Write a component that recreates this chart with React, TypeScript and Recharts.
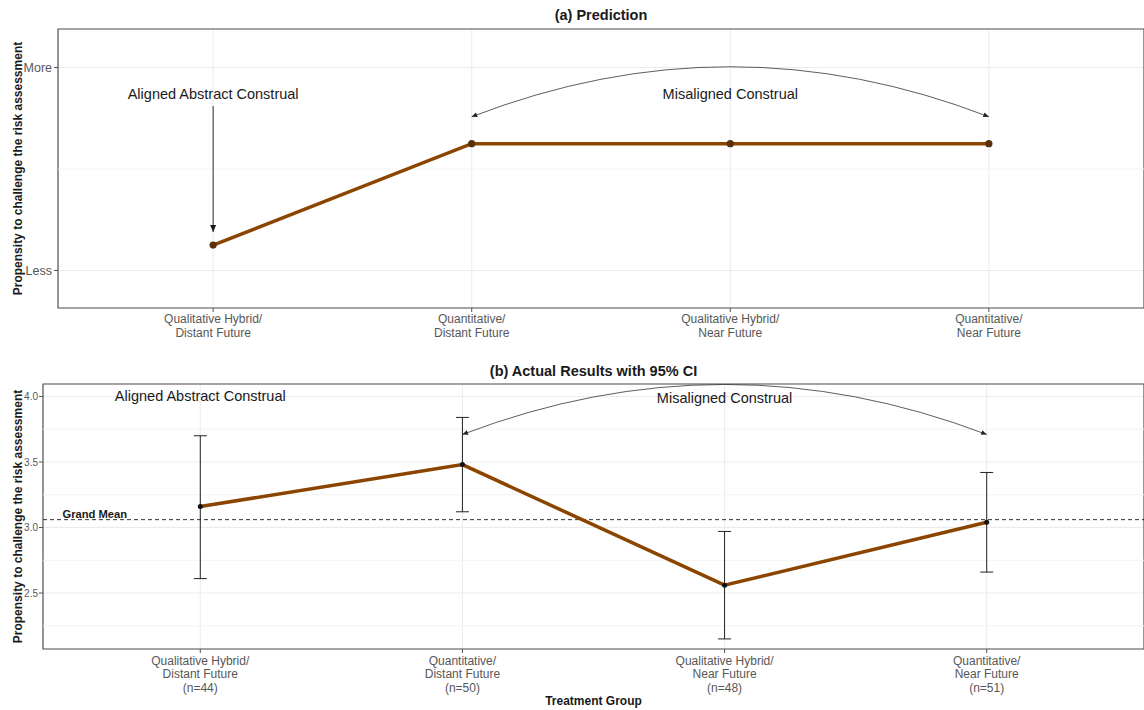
import React from 'react';
import {
  LineChart,
  Line,
  XAxis,
  YAxis,
  CartesianGrid,
  ReferenceLine,
  ReferenceArea,
  ReferenceDot,
  ErrorBar,
} from 'recharts';

// treatment groups, in plotting order
const groupPos = [1, 2, 3, 4];
const groupLines = [
  ['Qualitative Hybrid/', 'Distant Future'],
  ['Quantitative/', 'Distant Future'],
  ['Qualitative Hybrid/', 'Near Future'],
  ['Quantitative/', 'Near Future'],
];
const groupN = [44, 50, 48, 51];

// (a) predicted propensity, on a 0 (less) .. 4 (more) scale
const predicted = [0.5, 2.5, 2.5, 2.5];
const predTicks = [0, 4];
const predTickLabels = ['Less', 'More'];
const predMinor = [2];

// (b) observed means with 95% CI
const actualMean = [3.16, 3.48, 2.56, 3.04];
const ciLower = [2.61, 3.12, 2.15, 2.66];
const ciUpper = [3.7, 3.84, 2.97, 3.42];
const grandMean = 3.06;
const actualTicks = [2.5, 3.0, 3.5, 4.0];
const actualMinor = [2.25, 2.75, 3.25, 3.75];

const FONT = '"Liberation Sans", Arial, Helvetica, sans-serif';
const LINE_COLOR = '#8B4500';
const INK = '#1a1a1a';
const TICK_COLOR = '#575757';
const AXIS_COLOR = '#555';
const GRID = '#EBEBEB';
const GRID_MINOR = '#F4F4F4';
const W = 1144;

const X_DOMAIN: [number, number] = [0.4, 4.6];
const PRED_DOMAIN: [number, number] = [-0.74, 4.76];
const ACTUAL_DOMAIN: [number, number] = [2.073, 4.095];

const predData = groupPos.map((x, i) => ({ x, y: predicted[i] }));
const actualData = groupPos.map((x, i) => ({
  x,
  y: actualMean[i],
  ci: [actualMean[i] - ciLower[i], ciUpper[i] - actualMean[i]],
}));

// triangle with its tip at (tx, ty), pointing along (dx, dy)
const headPoints = (tx: number, ty: number, dx: number, dy: number, len: number, half: number) => {
  const l = Math.hypot(dx, dy) || 1;
  const ux = dx / l;
  const uy = dy / l;
  const bx = tx - ux * len;
  const by = ty - uy * len;
  return `${tx},${ty} ${bx - uy * half},${by + ux * half} ${bx + uy * half},${by - ux * half}`;
};

const StraightArrow = (p: any) => {
  const { x1, y1, x2, y2 } = p;
  return (
    <g>
      <line x1={x1} y1={y1} x2={x2} y2={y2} stroke={INK} strokeWidth={0.9} />
      <polygon points={headPoints(x2, y2, x2 - x1, y2 - y1, 7, 3)} fill={INK} />
    </g>
  );
};

// quadratic arc between the segment ends, bowed upwards, heads at both ends
const curvedArrow = (bulge: number) => (p: any) => {
  const { x1, y1, x2, y2 } = p;
  const cx = (x1 + x2) / 2;
  const cy = (y1 + y2) / 2 - 2 * bulge;
  return (
    <g>
      <path
        d={`M${x1},${y1} Q${cx},${cy} ${x2},${y2}`}
        fill="none"
        stroke="#333"
        strokeWidth={0.8}
      />
      <polygon points={headPoints(x1, y1, x1 - cx, y1 - cy, 5.5, 2.5)} fill="#222" />
      <polygon points={headPoints(x2, y2, x2 - cx, y2 - cy, 5.5, 2.5)} fill="#222" />
    </g>
  );
};

const note = (text: string) => (p: any) => (
  <text
    x={p.cx}
    y={p.cy}
    textAnchor="middle"
    dominantBaseline="central"
    fontSize={14.5}
    fill={INK}
    fontFamily={FONT}
  >
    {text}
  </text>
);

const GroupTick = (props: any) => {
  const { x, y, payload, first, step, showN } = props;
  const i = groupPos.indexOf(payload.value);
  if (i < 0) return null;
  const lines = showN ? [...groupLines[i], `(n=${groupN[i]})`] : groupLines[i];
  return (
    <text x={x} y={y} textAnchor="middle" fill={TICK_COLOR} fontSize={12} fontFamily={FONT}>
      {lines.map((l, k) => (
        <tspan key={k} x={x} dy={k === 0 ? first : step}>
          {l}
        </tspan>
      ))}
    </text>
  );
};

const yTitle = (props: any) => {
  const { viewBox } = props;
  const x = viewBox.x + 17.5;
  const y = viewBox.y + viewBox.height / 2;
  return (
    <text
      x={x}
      y={y}
      transform={`rotate(-90, ${x}, ${y})`}
      textAnchor="middle"
      dominantBaseline="central"
      fontWeight="bold"
      fontSize={12}
      fill={INK}
      fontFamily={FONT}
    >
      Propensity to challenge the risk assessment
    </text>
  );
};

const xTitle = (props: any) => {
  const { viewBox } = props;
  return (
    <text
      x={viewBox.x + viewBox.width / 2}
      y={viewBox.y + 56}
      textAnchor="middle"
      fontWeight="bold"
      fontSize={12}
      fill={INK}
      fontFamily={FONT}
    >
      Treatment Group
    </text>
  );
};

const grandMeanLabel = (props: any) => {
  const { viewBox } = props;
  return (
    <text
      x={viewBox.x + 19.5}
      y={viewBox.y - 2}
      fontWeight="bold"
      fontSize={11.2}
      fill={INK}
      fontFamily={FONT}
    >
      Grand Mean
    </text>
  );
};

const titleStyle = (top: number, left: number): React.CSSProperties => ({
  position: 'absolute',
  top,
  left,
  right: 0,
  textAlign: 'center',
  fontSize: 14.5,
  lineHeight: '17px',
  fontWeight: 'bold',
  color: INK,
  fontFamily: FONT,
});

export default function App() {
  return (
    <div
      style={{
        position: 'absolute',
        left: 0,
        top: 0,
        width: W,
        height: 710,
        background: '#fff',
        fontFamily: FONT,
        overflow: 'hidden',
      }}
    >
      <div style={titleStyle(7, 58)}>(a) Prediction</div>
      <div style={titleStyle(362.5, 43)}>(b) Actual Results with 95% CI</div>

      {/* (a) prediction */}
      <div style={{ position: 'absolute', left: 0, top: 0 }}>
        <LineChart
          width={W}
          height={350}
          data={predData}
          margin={{ top: 29, right: 0, bottom: 0, left: 0 }}
        >
          <CartesianGrid stroke={GRID} />
          {predMinor.map((v) => (
            <ReferenceLine key={v} y={v} stroke={GRID_MINOR} />
          ))}
          <XAxis
            dataKey="x"
            type="number"
            domain={X_DOMAIN}
            ticks={groupPos}
            interval={0}
            allowDataOverflow
            axisLine={false}
            stroke={AXIS_COLOR}
            tickSize={4}
            tickMargin={0}
            height={42}
            tick={<GroupTick first={10.5} step={14} />}
          />
          <YAxis
            type="number"
            domain={PRED_DOMAIN}
            ticks={predTicks}
            interval={0}
            allowDataOverflow
            axisLine={false}
            stroke={AXIS_COLOR}
            tickSize={4}
            tickMargin={2}
            width={58}
            tick={{ fill: TICK_COLOR, fontSize: 12.5, fontFamily: FONT }}
            tickFormatter={(v: number) => predTickLabels[predTicks.indexOf(v)]}
            label={{ content: yTitle }}
          />
          <ReferenceDot x={1} y={3.48} shape={note('Aligned Abstract Construal')} />
          <ReferenceLine
            segment={[
              { x: 1, y: 3.24 },
              { x: 1, y: 0.756 },
            ]}
            shape={StraightArrow}
          />
          <ReferenceDot x={3} y={3.48} shape={note('Misaligned Construal')} />
          <ReferenceLine
            segment={[
              { x: 2, y: 3.03 },
              { x: 4, y: 3.03 },
            ]}
            shape={curvedArrow(50)}
          />
          <Line
            dataKey="y"
            stroke={LINE_COLOR}
            strokeWidth={3.5}
            dot={{ r: 3.6, fill: '#5a300a', stroke: 'none' }}
            activeDot={false}
            isAnimationActive={false}
          />
          <ReferenceArea
            x1={X_DOMAIN[0]}
            x2={X_DOMAIN[1]}
            y1={PRED_DOMAIN[0]}
            y2={PRED_DOMAIN[1]}
            fill="none"
            fillOpacity={0}
            stroke={AXIS_COLOR}
            strokeWidth={1.2}
            ifOverflow="visible"
          />
        </LineChart>
      </div>

      {/* (b) actual results */}
      <div style={{ position: 'absolute', left: 0, top: 350 }}>
        <LineChart
          width={W}
          height={360}
          data={actualData}
          margin={{ top: 34, right: 0, bottom: 0, left: 0 }}
        >
          <CartesianGrid stroke={GRID} />
          {actualMinor.map((v) => (
            <ReferenceLine key={v} y={v} stroke={GRID_MINOR} />
          ))}
          <XAxis
            dataKey="x"
            type="number"
            domain={X_DOMAIN}
            ticks={groupPos}
            interval={0}
            allowDataOverflow
            axisLine={false}
            stroke={AXIS_COLOR}
            tickSize={4}
            tickMargin={0}
            height={61}
            tick={<GroupTick first={12} step={13.3} showN />}
            label={{ content: xTitle }}
          />
          <YAxis
            type="number"
            domain={ACTUAL_DOMAIN}
            ticks={actualTicks}
            interval={0}
            allowDataOverflow
            axisLine={false}
            stroke={AXIS_COLOR}
            tickSize={4}
            tickMargin={1}
            width={43}
            tick={{ fill: TICK_COLOR, fontSize: 10, fontFamily: FONT }}
            tickFormatter={(v: number) => v.toFixed(1)}
            label={{ content: yTitle }}
          />
          <ReferenceLine
            y={grandMean}
            stroke={INK}
            strokeWidth={0.9}
            strokeDasharray="4 3"
            label={{ content: grandMeanLabel }}
          />
          <ReferenceDot x={1} y={4.0} shape={note('Aligned Abstract Construal')} />
          <ReferenceDot x={3} y={3.99} shape={note('Misaligned Construal')} />
          <ReferenceLine
            segment={[
              { x: 2, y: 3.71 },
              { x: 4, y: 3.71 },
            ]}
            shape={curvedArrow(50)}
          />
          <Line
            dataKey="y"
            stroke={LINE_COLOR}
            strokeWidth={3.5}
            dot={{ r: 2.5, fill: '#111', stroke: 'none' }}
            activeDot={false}
            isAnimationActive={false}
          >
            <ErrorBar dataKey="ci" width={6.5} stroke="#222" strokeWidth={1} direction="y" />
          </Line>
          <ReferenceArea
            x1={X_DOMAIN[0]}
            x2={X_DOMAIN[1]}
            y1={ACTUAL_DOMAIN[0]}
            y2={ACTUAL_DOMAIN[1]}
            fill="none"
            fillOpacity={0}
            stroke={AXIS_COLOR}
            strokeWidth={1.2}
            ifOverflow="visible"
          />
        </LineChart>
      </div>
    </div>
  );
}
